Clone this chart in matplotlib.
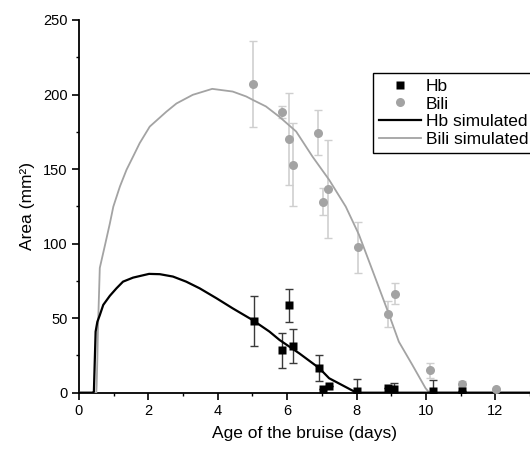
import matplotlib
matplotlib.use("Agg")
import matplotlib.pyplot as plt
from matplotlib.ticker import MultipleLocator

plt.rcParams['font.family'] = ['Liberation Sans', 'DejaVu Sans']

# Hb measurements
hb_x = [5.04, 5.84, 6.04, 6.16, 6.91, 7.02, 7.20, 8.00, 8.92, 9.08, 10.20, 11.04]
hb_y = [48.1, 28.4, 58.7, 31.1, 16.4, 2.3, 4.5, 1.3, 3.0, 2.5, 1.3, 1.0]
hb_err = [17.0, 11.7, 11.0, 11.4, 8.6, 0.0, 0.0, 8.0, 0.0, 3.8, 7.5, 0.0]

# Bilirubin measurements
bili_x = [5.03, 5.84, 6.04, 6.16, 6.90, 7.02, 7.19, 8.03, 8.91, 9.10, 10.13, 11.04, 12.03]
bili_y = [207.0, 188.0, 170.0, 153.0, 174.5, 128.0, 136.5, 97.6, 52.8, 66.4, 15.2, 5.8, 2.5]
bili_err = [29.0, 4.0, 31.0, 28.0, 15.0, 9.0, 33.0, 17.0, 9.0, 7.0, 5.0, 2.0, 0.0]

# Simulated curves
hb_sim_x = [0.0, 0.41, 0.43, 0.46, 0.48, 0.53, 0.60, 0.70, 0.89, 1.08, 1.27, 1.56, 2.02,
            2.33, 2.71, 3.09, 3.48, 3.96, 4.43, 5.00, 5.49, 5.78, 6.35, 6.93, 7.21,
            8.00, 13.0]
hb_sim_y = [0.0, 0.0, 0.7, 25.0, 41.0, 47.6, 52.0, 58.9, 65.0, 70.0, 74.5, 77.2, 79.7,
            79.5, 77.9, 74.5, 70.0, 63.4, 56.6, 48.8, 41.0, 35.4, 26.4, 16.4, 9.7,
            0.0, 0.0]

bili_sim_x = [0.0, 0.50, 0.51, 0.53, 0.55, 0.58, 0.60, 0.75, 0.89, 0.99, 1.18, 1.37, 1.56,
              1.75, 2.04, 2.52, 2.81, 3.28, 3.84, 4.43, 4.82, 5.01, 5.39, 5.78, 6.26,
              6.73, 7.21, 7.69, 8.07, 8.46, 8.92, 9.22, 9.61, 9.99, 10.10, 13.0]
bili_sim_y = [0.0, 0.0, 5.0, 23.0, 45.0, 68.0, 83.7, 99.0, 113.5, 124.8, 138.3, 149.5, 158.4,
              167.4, 178.5, 188.5, 194.0, 199.8, 203.8, 202.0, 198.7, 196.4, 192.0, 185.0, 175.2,
              158.4, 142.8, 124.8, 106.0, 82.0, 53.5, 34.2, 18.6, 3.0, 0.0, 0.0]

x_ticks = [0, 2, 4, 6, 8, 10, 12]
y_ticks = [0, 50, 100, 150, 200, 250]

fig = plt.figure(figsize=(5.3, 4.5), dpi=100)
ax = fig.add_axes([0.149, 0.1273, 0.851, 0.8283])

gray = '#a3a3a3'
ax.errorbar(bili_x, bili_y, yerr=bili_err, fmt='none', ecolor='#cfcfcf',
            elinewidth=1.2, capsize=3, capthick=1.0, zorder=2)
ax.errorbar(hb_x, hb_y, yerr=hb_err, fmt='none', ecolor='#3a3a3a',
            elinewidth=1.0, capsize=3, capthick=1.0, zorder=2)
l_bs, = ax.plot(bili_sim_x, bili_sim_y, color=gray, lw=1.3, zorder=3, label='Bili simulated')
l_hs, = ax.plot(hb_sim_x, hb_sim_y, color='black', lw=1.6, zorder=4, label='Hb simulated')
p_b, = ax.plot(bili_x, bili_y, 'o', color=gray, ms=6.5, mec='none', zorder=5, label='Bili')
p_h, = ax.plot(hb_x, hb_y, 's', color='black', ms=5.5, mec='none', zorder=6, label='Hb')

ax.set_xlim(0, 13)
ax.set_ylim(0, 250)
ax.set_xticks(x_ticks)
ax.set_yticks(y_ticks)
ax.xaxis.set_minor_locator(MultipleLocator(1))
ax.yaxis.set_minor_locator(MultipleLocator(25))
ax.tick_params(which='major', direction='out', length=5, width=1.2, labelsize=10.5, pad=3)
ax.tick_params(which='minor', direction='out', length=2.5, width=1.0)
for s in ['top', 'right']:
    ax.spines[s].set_visible(False)
for s in ['left', 'bottom']:
    ax.spines[s].set_linewidth(1.3)

ax.set_xlabel('Age of the bruise (days)', fontsize=12.5, labelpad=6)
ax.set_ylabel('Area (mm²)', fontsize=12.5, labelpad=6)

leg = ax.legend(handles=[p_h, p_b, l_hs, l_bs], loc='upper left',
                bbox_to_anchor=(0.652, 0.859), fontsize=12.5, frameon=True,
                fancybox=False, edgecolor='black', framealpha=1,
                handlelength=2.4, handletextpad=0.3, labelspacing=0.15,
                borderpad=0.35, borderaxespad=0)
leg.get_frame().set_linewidth(1.0)
leg.set_clip_on(False)

fig.savefig('out.png', dpi=100)
